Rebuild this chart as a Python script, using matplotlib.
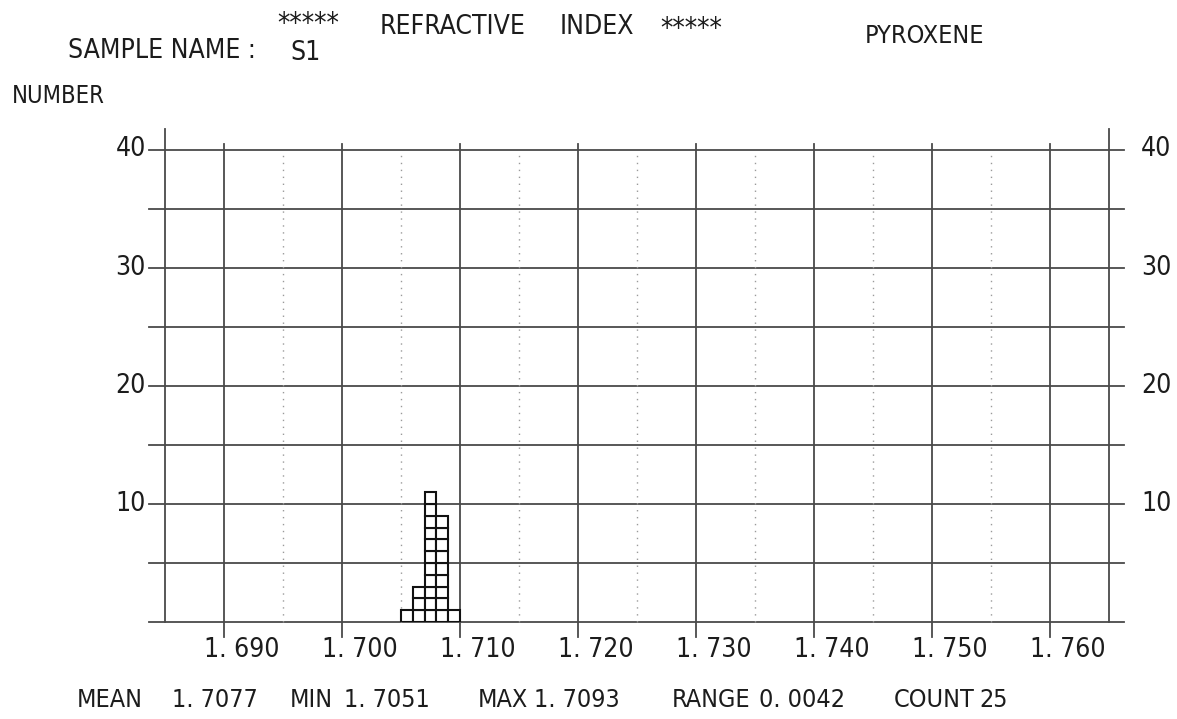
import numpy as np
import matplotlib
matplotlib.use('Agg')
import matplotlib.pyplot as plt
from matplotlib.transforms import offset_copy, blended_transform_factory

plt.rcParams['font.family'] = ['DejaVu Sans']
plt.rcParams['font.stretch'] = 'condensed'

# refractive index histogram, bins of 0.001
bin_left = [1.705, 1.706, 1.707, 1.708, 1.709]
counts = [1, 3, 11, 9, 1]
bin_width = 0.001

x_min, x_max = 1.685, 1.765
y_min, y_max = 0, 40
x_major = [1.690, 1.700, 1.710, 1.720, 1.730, 1.740, 1.750, 1.760]
x_minor = [1.695, 1.705, 1.715, 1.725, 1.735, 1.745, 1.755]
x_labels = ['1. 690', '1. 700', '1. 710', '1. 720', '1. 730', '1. 740', '1. 750', '1. 760']
y_lines = [0, 5, 10, 15, 20, 25, 30, 35, 40]
y_labels = [10, 20, 30, 40]

title_parts = ['*****', 'REFRACTIVE', 'INDEX', '*****']
sample_name = 'S1'
mineral = 'PYROXENE'
stat_names = ['MEAN', 'MIN', 'MAX', 'RANGE', 'COUNT']
stat_values = ['1. 7077', '1. 7051', '1. 7093', '0. 0042', '25']

ink = '#1c1c1c'
grid = '#4a4a4a'
fs = 19

W, H = 1177, 719
fig = plt.figure(figsize=(W / 100, H / 100), dpi=100)
fig.patch.set_facecolor('white')

def px(x, y):
    # figure pixel position (from top-left) to figure fraction
    return x / W, 1 - y / H

ax = fig.add_axes([165 / W, 1 - 622 / H, (1109 - 165) / W, (622 - 149.5) / H])
ax.set_xlim(x_min, x_max)
ax.set_ylim(y_min, y_max)
ax.axis('off')

unit_x = (x_max - x_min) / (1109 - 165)
unit_y = (y_max - y_min) / (622 - 149.5)

# horizontal rules, sticking out past both axes
for y in y_lines:
    ax.plot([x_min - 16 * unit_x, x_max + 15 * unit_x], [y, y], color=grid, lw=1.3, clip_on=False)

# side axes
for x in (x_min, x_max):
    ax.plot([x, x], [0, y_max + 20 * unit_y], color=grid, lw=1.3, clip_on=False)

# major verticals with a tick below the baseline
for x in x_major:
    ax.plot([x, x], [-15 * unit_y, y_max + 6 * unit_y], color=grid, lw=1.3, clip_on=False)

# minor dotted verticals
for x in x_minor:
    ax.plot([x, x], [0, y_max], color='#9a9a9a', lw=1.0, ls=(0, (1, 4)), clip_on=False)

# histogram drawn as stacked unit cells
for level in range(max(counts)):
    xs = [b for b, c in zip(bin_left, counts) if c > level]
    ax.bar(xs, 1, width=bin_width, bottom=level, align='edge',
           facecolor='white', edgecolor='#111111', lw=1.5, zorder=3)

# y labels on both sides
left_tr = offset_copy(blended_transform_factory(ax.transAxes, ax.transData), fig=fig, x=-19, y=0, units='dots')
right_tr = offset_copy(blended_transform_factory(ax.transAxes, ax.transData), fig=fig, x=32, y=0, units='dots')
for v in y_labels:
    ax.text(0, v, str(v), transform=left_tr, ha='right', va='center', fontsize=fs, color=ink)
    ax.text(1, v, str(v), transform=right_tr, ha='left', va='center', fontsize=fs, color=ink)

# x labels, set a little right of their lines
xl_tr = offset_copy(ax.transData, fig=fig, x=18, y=-15, units='dots')
for x, lab in zip(x_major, x_labels):
    ax.text(x, 0, lab, transform=xl_tr, ha='center', va='top', fontsize=fs, color=ink)

# header
title_x = [277, 380, 560, 660]
title_y = [24, 27, 27, 29]
for x, y, t in zip(title_x, title_y, title_parts):
    size = fs + 1 if t.startswith('*') else fs
    fig.text(*px(x, y), t, ha='left', va='center', fontsize=size, color=ink)
fig.text(*px(68, 51), 'SAMPLE NAME :', ha='left', va='center', fontsize=fs, color=ink)
fig.text(*px(290, 53), sample_name, ha='left', va='center', fontsize=fs, color=ink)
fig.text(*px(865, 36), mineral, ha='left', va='center', fontsize=fs - 1, color=ink)
fig.text(*px(12, 96), 'NUMBER', ha='left', va='center', fontsize=fs - 2, color=ink)

# statistics line: names from the left edge, values ending at the right edge
name_x = [77, 290, 478, 672, 894]
value_right = [258, 430, 620, 845, 1008]
for nx, vx, n, v in zip(name_x, value_right, stat_names, stat_values):
    fig.text(*px(nx, 700), n, ha='left', va='center', fontsize=fs - 1, color=ink)
    fig.text(*px(vx, 700), v, ha='right', va='center', fontsize=fs - 1, color=ink)

fig.savefig('out.png', dpi=100, facecolor='white')
